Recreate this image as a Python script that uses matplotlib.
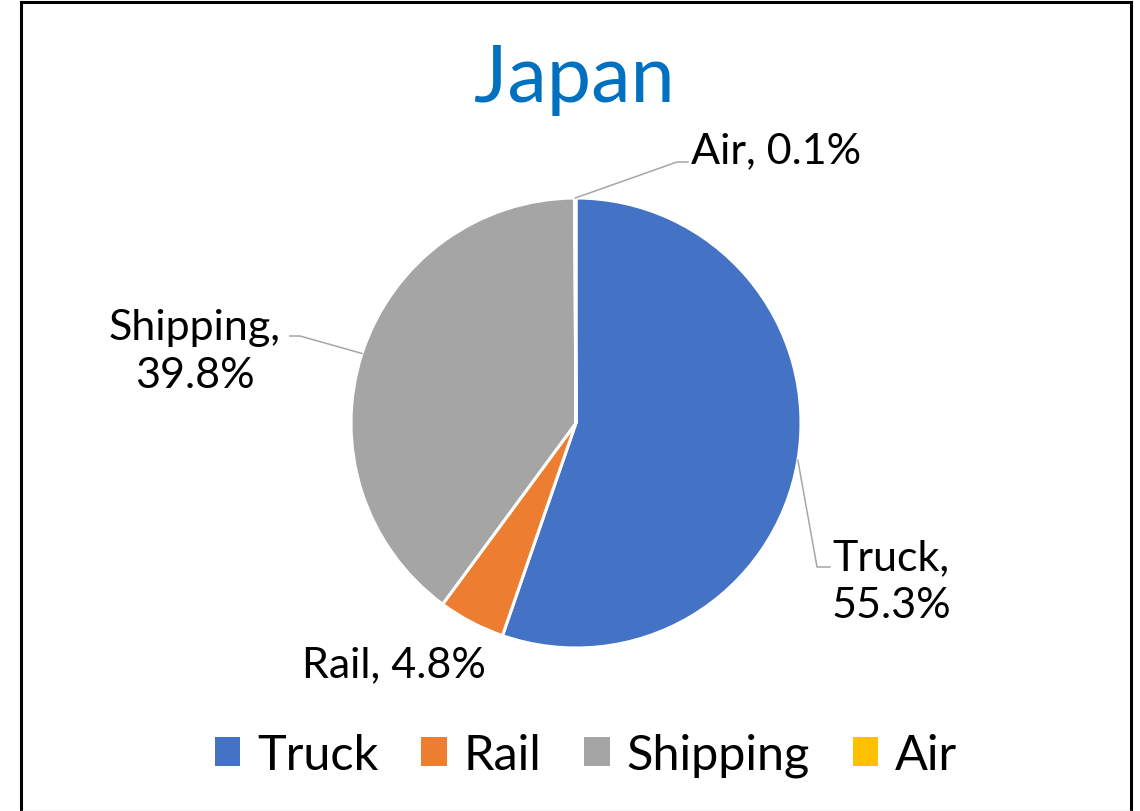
import numpy as np
import matplotlib
matplotlib.use("Agg")
import matplotlib.pyplot as plt
from matplotlib.lines import Line2D
from matplotlib.patches import Patch

categories = ["Truck", "Rail", "Shipping", "Air"]
shares = [55.3, 4.8, 39.8, 0.1]
colors = ["#4472C4", "#ED7D31", "#A5A5A5", "#FFC000"]
title = "Japan"

W, H = 1140, 812
FONT = ["Lato", "DejaVu Sans"]
plt.rcParams["font.family"] = FONT

fig = plt.figure(figsize=(W / 100, H / 100), dpi=100)
ax = fig.add_axes([0, 0, 1, 1])

cx, cy, R = 576, H - 424, 225
wedges, _ = ax.pie(shares, colors=colors, startangle=90, counterclock=False,
                   center=(cx, cy), radius=R,
                   wedgeprops=dict(edgecolor="white", linewidth=2.2))
ax.set_xlim(0, W)
ax.set_ylim(0, H)
ax.set_aspect("auto")
ax.axis("off")

# anchor point on the wedge rim at each slice's mid angle
total = sum(shares)
cum = np.cumsum([0] + shares[:-1])
mid = (cum + np.array(shares) / 2) / total * 360.0  # clockwise from 12 o'clock
anchor = {c: (cx + R * np.sin(np.radians(a)), cy + R * np.cos(np.radians(a)))
          for c, a in zip(categories, mid)}

fs = 31
lsp = 1.34
lc = "#A6A6A6"

def lbl(i):
    return f"{categories[i]}, {shares[i]:.1f}%"

# Truck
ax.text(891, H - 582, f"{categories[0]},\n{shares[0]:.1f}%", ha="center", va="center",
        fontsize=fs, linespacing=lsp)
x0, y0 = anchor["Truck"]
ax.add_line(Line2D([x0, 817, 830], [y0, H - 568, H - 568], color=lc, lw=1.1))

# Rail
ax.text(394, H - 665, lbl(1), ha="center", va="center", fontsize=fs)

# Shipping
ax.text(195, H - 352, f"{categories[2]},\n{shares[2]:.1f}%", ha="center", va="center",
        fontsize=fs, linespacing=lsp)
x0, y0 = anchor["Shipping"]
ax.add_line(Line2D([x0, 300, 290], [y0, H - 337, H - 337], color=lc, lw=1.1))

# Air
ax.text(691, H - 151, lbl(3), ha="left", va="center", fontsize=fs)
x0, y0 = anchor["Air"]
ax.add_line(Line2D([x0, 677, 688], [y0, H - 163, H - 163], color=lc, lw=1.1))

# Title
ax.text(574, H - 80, title, ha="center", va="center", fontsize=57, color="#0070C0")

# Legend
lfs = 35
handles = [Patch(facecolor=c, edgecolor="none") for c in colors]
leg = ax.legend(handles, categories, ncol=4, loc="center",
                bbox_to_anchor=(586 / W, 1 - 756 / H), frameon=False,
                fontsize=lfs, handlelength=0.52, handleheight=0.52,
                handletextpad=0.35, columnspacing=0.88, borderaxespad=0)

# Border
fig.add_artist(Line2D([21 / W, 21 / W], [1 - 3 / H, 0], transform=fig.transFigure,
                      color="black", lw=2.2))
fig.add_artist(Line2D([21 / W, 1131 / W], [1 - 3 / H, 1 - 3 / H], transform=fig.transFigure,
                      color="black", lw=2.2))
fig.add_artist(Line2D([1131 / W, 1131 / W], [1 - 3 / H, 0], transform=fig.transFigure,
                      color="black", lw=2.2))
fig.add_artist(Line2D([21 / W, 1131 / W], [0.5 / H, 0.5 / H], transform=fig.transFigure,
                      color="#C8C8C8", lw=1.0))

fig.savefig("out.png", dpi=100)
